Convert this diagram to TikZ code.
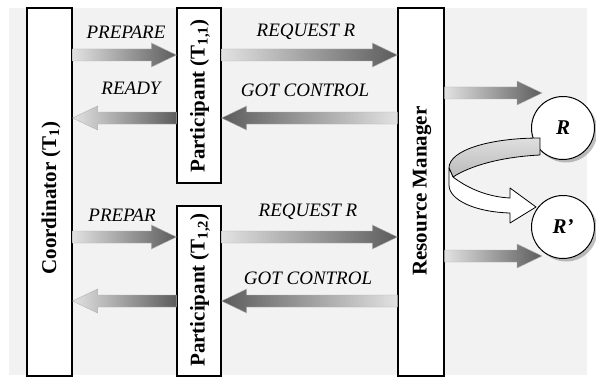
\documentclass[tikz,border=0pt]{standalone}
\usepackage{fontspec}
\setmainfont{Liberation Serif}
\usetikzlibrary{calc,shadows}
\definecolor{bg}{HTML}{F2F2F2}
\definecolor{alight}{HTML}{E2E2E2}
\definecolor{adark}{HTML}{5C5C5C}
\tikzset{
 box/.style={draw=black, line width=1.2pt, fill=white, inner sep=0pt},
 boxtext/.style={rotate=90, font=\fontsize{21}{24}\selectfont\bfseries, inner sep=0pt},
 lab/.style={font=\fontsize{19}{22}\selectfont\itshape, inner sep=0pt},
 res/.style={circle, draw=black, line width=1pt, fill=white, minimum size=63pt, inner sep=0pt,
   drop shadow={shadow xshift=3pt, shadow yshift=-3pt, fill=black!50},
   font=\fontsize{21}{24}\selectfont\bfseries\itshape},
 fatline/.style={draw=gray!60, line width=0.4pt},
 ribbon/.style={draw=black, line width=0.8pt, line join=round},
}
\newcommand\rightfat[4]{\path[fatline, left color=#3, right color=#4] let \p1=(#1), \p2=(#2) in
  (\x1,\y1+6pt) -- (\x2-25pt,\y1+6pt) -- (\x2-25pt,\y1+12pt) -- (\x2,\y1) -- (\x2-25pt,\y1-12pt) -- (\x2-25pt,\y1-6pt) -- (\x1,\y1-6pt) -- cycle;}
\newcommand\leftfat[4]{\path[fatline, left color=#3, right color=#4] let \p1=(#1), \p2=(#2) in
  (\x1,\y1+6pt) -- (\x2+25pt,\y1+6pt) -- (\x2+25pt,\y1+12pt) -- (\x2,\y1) -- (\x2+25pt,\y1-12pt) -- (\x2+25pt,\y1-6pt) -- (\x1,\y1-6pt) -- cycle;}
\begin{document}
\begin{tikzpicture}[x=1pt,y=-1pt]
\useasboundingbox (0,0) rectangle (596,377);
\fill[bg] (9,8) rectangle (587,375);
% boxes
\node[box, minimum width=45pt, minimum height=368pt] (C) at (49.5,192) {};
\node[box, minimum width=44pt, minimum height=175pt] (P1) at (199,95.5) {};
\node[box, minimum width=44pt, minimum height=170pt] (P2) at (199,291) {};
\node[box, minimum width=46pt, minimum height=368pt] (RM) at (421,192) {};
\node[boxtext] (Ct) at (51,198) {Coordinator (T\textsubscript{1})};
\node[boxtext] (P1t) at (200,96) {Participant (T\textsubscript{1,1})};
\node[boxtext] (P2t) at (200,290) {Participant (T\textsubscript{1,2})};
\node[boxtext] (RMt) at (422,191) {Resource Manager};
% resources
\node[res] (R) at (563,128) {R};
\node[res] (R2) at (563,227) {R’};
% coordinates
\coordinate (c1) at (C.east |- 0,55);
\coordinate (p1a) at (P1.west |- 0,55);
\coordinate (p1b) at (P1.east |- 0,55);
\coordinate (m1) at (RM.west |- 0,55);
\coordinate (c2) at (C.east |- 0,118);
\coordinate (p2a) at (P1.west |- 0,118);
\coordinate (p2b) at (P1.east |- 0,118);
\coordinate (m2) at (RM.west |- 0,118);
\coordinate (c3) at (C.east |- 0,237);
\coordinate (p3a) at (P2.west |- 0,237);
\coordinate (p3b) at (P2.east |- 0,237);
\coordinate (m3) at (RM.west |- 0,237);
\coordinate (c4) at (C.east |- 0,301);
\coordinate (p4a) at (P2.west |- 0,301);
\coordinate (p4b) at (P2.east |- 0,301);
\coordinate (m4) at (RM.west |- 0,301);
\coordinate (r1a) at (RM.east |- 0,93);
\coordinate (r1b) at (542,93);
\coordinate (r2a) at (RM.east |- 0,256);
\coordinate (r2b) at (542,256);
% arrows
\rightfat{c1}{p1a}{alight}{adark}
\leftfat{p2a}{c2}{alight}{adark}
\rightfat{p1b}{m1}{alight}{adark}
\leftfat{m2}{p2b}{adark}{alight}
\rightfat{c3}{p3a}{alight}{adark}
\leftfat{p4a}{c4}{alight}{adark}
\rightfat{p3b}{m3}{alight}{adark}
\leftfat{m4}{p4b}{adark}{alight}
\rightfat{r1a}{r1b}{alight}{adark}
\rightfat{r2a}{r2b}{alight}{adark}
% labels
\node[lab] at (126,32) {PREPARE};
\node[lab] at (131,88) {READY};
\node[lab] at (306,32) {REQUEST R};
\node[lab] at (305,90) {GOT CONTROL};
\node[lab] at (122,215) {PREPAR};
\node[lab] at (308,212) {REQUEST R};
\node[lab] at (308,278) {GOT CONTROL};
% ribbon arrow from R to R'
\path[ribbon, top color=gray!25, bottom color=gray!55]
  (540,138) .. controls (490,138) and (449,150) .. (449,168)
  -- (453,177) .. controls (470,166) and (500,157) .. (540,155) -- cycle;
\path[ribbon, fill=white]
  (449,168) -- (453,177) .. controls (470,190) and (490,197) .. (510,198)
  -- (510,188) -- (536,207) -- (510,223) -- (510,213)
  .. controls (475,212) and (449,200) .. (449,185) -- cycle;
\end{tikzpicture}
\end{document}
